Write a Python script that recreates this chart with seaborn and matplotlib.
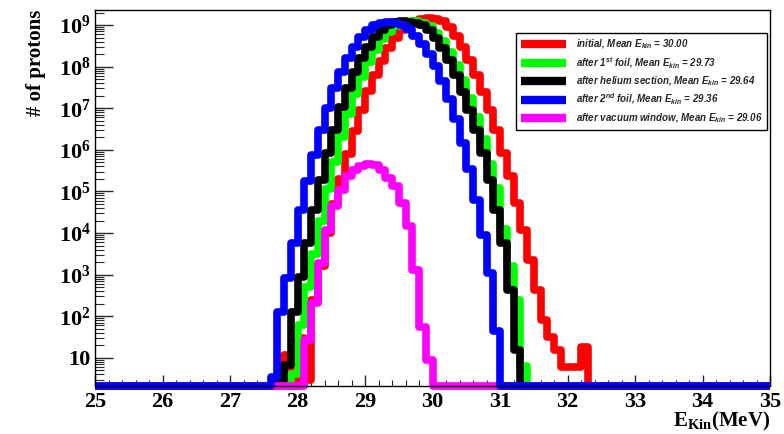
import numpy as np
import matplotlib
matplotlib.use("Agg")
import matplotlib.pyplot as plt
import seaborn as sns
from matplotlib.lines import Line2D
from matplotlib.ticker import LogLocator, FixedLocator, FuncFormatter, NullFormatter, MultipleLocator

# histogram binning: 25 - 35 MeV, 0.1 MeV bins
e_min, e_max, n_bins = 25.0, 35.0, 100

# counts per bin, starting at the given energy (all other bins empty)
initial_start = 27.8
initial_counts = [12, 0, 30, 3, 245, 1585, 1e4, 5.0e4, 2.0e5, 7.9e5, 2.8e6, 8.9e6,
                  2.6e7, 6.3e7, 1.4e8, 2.75e8, 4.9e8, 7.4e8, 1.02e9, 1.26e9, 1.41e9,
                  1.48e9, 1.41e9, 1.23e9, 8.9e8, 5.5e8, 3.0e8, 1.45e8, 6.3e7, 2.5e7,
                  9.1e6, 3.0e6, 8.3e5, 2.3e5, 5.25e4, 1.2e4, 2291, 437, 81, 32, 15.5,
                  6, 6, 6, 18]

foil1_start = 27.9
foil1_counts = [4, 63, 501, 3162, 2.0e4, 1.12e5, 5.0e5, 2.0e6, 7.1e6, 2.2e7, 5.6e7,
                1.26e8, 2.5e8, 4.5e8, 6.9e8, 9.3e8, 1.15e9, 1.23e9, 1.23e9, 1.15e9,
                9.3e8, 6.6e8, 4.2e8, 2.3e8, 1.1e8, 4.8e7, 1.8e7, 6.0e6, 1.8e6, 4.5e5,
                1.2e5, 1.26e4, 1585, 251, 6.3]

helium_start = 27.7
helium_counts = [3, 6.8, 129, 891, 5754, 3.63e4, 1.9e5, 8.3e5, 3.0e6, 1.1e7, 3.0e7,
                 7.6e7, 1.6e8, 3.0e8, 5.2e8, 7.6e8, 1.0e9, 1.17e9, 1.23e9, 1.2e9,
                 1.12e9, 1.0e9, 7.6e8, 4.9e8, 2.75e8, 1.45e8, 6.3e7, 2.5e7, 9.1e6,
                 3.0e6, 8.3e5, 1.9e5, 3.63e4, 5754, 437, 15.5]

foil2_start = 27.6
foil2_counts = [3.5, 129, 832, 5754, 3.63e4, 1.74e5, 7.6e5, 3.0e6, 1.0e7, 3.0e7, 7.6e7,
                1.6e8, 3.0e8, 5.2e8, 7.6e8, 1.0e9, 1.15e9, 1.2e9, 1.15e9, 1.0e9, 7.9e8,
                5.5e8, 3.5e8, 2.0e8, 1.05e8, 4.6e7, 1.7e7, 5.5e6, 1.5e6, 3.55e5, 6.3e4,
                8.9e3, 1.1e3, 45]

window_start = 28.1
window_counts = [27, 204, 1905, 1.2e4, 4.37e4, 1.1e5, 2.3e5, 3.3e5, 4.0e5, 4.6e5,
                 4.4e5, 3.3e5, 2.1e5, 1.32e5, 5.25e4, 1.45e4, 1318, 56, 9]

labels = [r"initial, Mean E$_{kin}$ = 30.00",
          r"after 1$^{st}$ foil, Mean E$_{kin}$ = 29.73",
          r"after helium section, Mean E$_{kin}$ = 29.64",
          r"after 2$^{nd}$ foil, Mean E$_{kin}$ = 29.36",
          r"after vacuum window, Mean E$_{kin}$ = 29.06"]
colors = ["#ff0000", "#00ff00", "#000000", "#0000ff", "#ff00ff"]
series = [(initial_start, initial_counts), (foil1_start, foil1_counts),
          (helium_start, helium_counts), (foil2_start, foil2_counts),
          (window_start, window_counts)]
draw_order = [0, 1, 2, 4, 3]
y_ticks = [1e1, 1e2, 1e3, 1e4, 1e5, 1e6, 1e7, 1e8, 1e9]

y_lo, y_hi = 2.1, 2.3e9

sns.set_theme(style="white")
plt.rcParams.update({
    "mathtext.fontset": "custom",
    "mathtext.bf": "Liberation Serif:bold",
    "mathtext.rm": "Liberation Serif:bold",
    "mathtext.it": "Liberation Sans:italic:bold",
})

edges = np.round(np.linspace(e_min, e_max, n_bins + 1), 2)

def full_hist(start, counts):
    h = np.zeros(n_bins)
    i0 = int(round((start - e_min) / 0.1))
    h[i0:i0 + len(counts)] = counts
    return np.append(h, h[-1])

fig = plt.figure(figsize=(7.84, 4.34), dpi=100)
ax = fig.add_axes([95 / 784, 1 - 386 / 434, 675 / 784, 376 / 434])

for i in draw_order:
    start, counts = series[i]
    y = np.clip(full_hist(start, counts), y_lo, None)
    sns.lineplot(x=edges, y=y, ax=ax, color=colors[i], lw=5.5, drawstyle="steps-post",
                 estimator=None, sort=False, clip_on=False,
                 solid_joinstyle="round", solid_capstyle="butt")

ax.set_yscale("log")
ax.set_xlim(e_min, e_max)
ax.set_ylim(y_lo, y_hi)

ax.xaxis.set_major_locator(MultipleLocator(1))
ax.xaxis.set_minor_locator(MultipleLocator(0.2))
ax.yaxis.set_major_locator(FixedLocator(y_ticks))
ax.yaxis.set_minor_locator(LogLocator(base=10, subs=np.arange(2, 10), numticks=20))
ax.yaxis.set_minor_formatter(NullFormatter())

def y_fmt(v, pos):
    e = int(round(np.log10(v)))
    if e == 1:
        return "10"
    return r"$\mathbf{10^{%d}}$" % e

ax.yaxis.set_major_formatter(FuncFormatter(y_fmt))
ax.xaxis.set_major_formatter(FuncFormatter(lambda v, p: "%d" % round(v)))

ax.tick_params(axis="y", which="major", direction="in", length=13, width=1, pad=3,
               left=True, right=False)
ax.tick_params(axis="y", which="minor", direction="in", length=6.5, width=0.8,
               left=True, right=False)
ax.tick_params(axis="x", which="major", direction="in", length=8, width=1, pad=4,
               bottom=True, top=False)
ax.tick_params(axis="x", which="minor", direction="in", length=4, width=0.8,
               bottom=True, top=False)
for lab in ax.get_xticklabels() + ax.get_yticklabels():
    lab.set_fontfamily("Liberation Serif")
    lab.set_fontweight("bold")
    lab.set_fontsize(16)
    lab.set_color("black")

for sp in ax.spines.values():
    sp.set_color("black")
    sp.set_linewidth(1)

ax.set_xlabel(r"E$_{\mathbf{Kin}}$(MeV)", loc="right", fontfamily="Liberation Serif",
              fontweight="bold", fontsize=15, labelpad=-1, color="black")
ax.set_ylabel("# of protons", loc="top", fontfamily="Liberation Serif",
              fontweight="bold", fontsize=15, labelpad=9, color="black")

handles = [Line2D([0], [0], color=c, lw=6, solid_capstyle="butt") for c in colors]
leg = ax.legend(handles, labels, loc="upper left",
                bbox_to_anchor=(0.624, 0.686, 0.372, 0.253), mode="expand",
                prop={"family": "Liberation Sans", "weight": "bold", "style": "italic",
                      "size": 7.0},
                frameon=True, fancybox=False, edgecolor="black", framealpha=1,
                handlelength=4.6, handletextpad=1.0, labelspacing=0.4,
                borderaxespad=0, borderpad=0.5)
leg.get_frame().set_linewidth(1)

fig.savefig("out.png", dpi=100)
